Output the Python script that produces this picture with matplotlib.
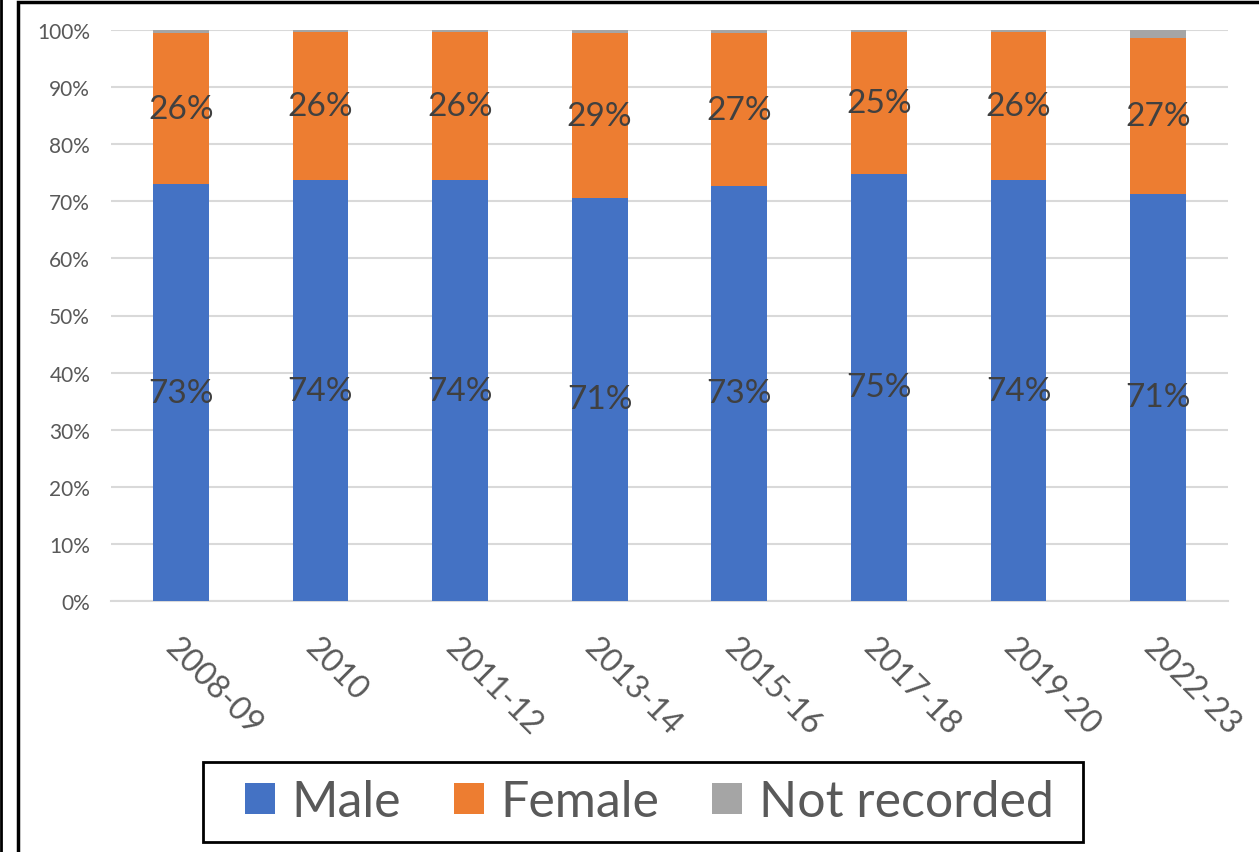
import matplotlib.pyplot as plt
from matplotlib.patches import Rectangle
from matplotlib.lines import Line2D
import numpy as np

plt.rcParams['font.family'] = ['Lato', 'DejaVu Sans']

# 数据
years = ['2008-09', '2010', '2011-12', '2013-14', '2015-16', '2017-18', '2019-20', '2022-23']
male = [73.0, 73.7, 73.7, 70.6, 72.7, 74.8, 73.7, 71.3]
female = [26.4, 25.9, 25.9, 28.8, 26.7, 24.9, 25.9, 27.3]
not_recorded = [0.6, 0.4, 0.4, 0.6, 0.6, 0.3, 0.4, 1.4]
male_labels = ['73%', '74%', '74%', '71%', '73%', '75%', '74%', '71%']
female_labels = ['26%', '26%', '26%', '29%', '27%', '25%', '26%', '27%']

fig = plt.figure(figsize=(12.59, 8.53), dpi=100)
ax = fig.add_axes([111 / 1259, 1 - 602 / 853, (1228 - 111) / 1259, (602 - 31) / 853])

x = np.arange(len(years))
male = np.array(male)
female = np.array(female)
not_recorded = np.array(not_recorded)

b1 = ax.bar(x, male, width=0.4, color='#4472C4', label='Male', zorder=3)
b2 = ax.bar(x, female, width=0.4, bottom=male, color='#ED7D31', label='Female', zorder=3)
b3 = ax.bar(x, not_recorded, width=0.4, bottom=male + female, color='#A5A5A5',
            label='Not recorded', zorder=3)

# 数据标签
for i in range(len(years)):
    ax.text(x[i], male[i] / 2, male_labels[i], ha='center', va='center',
            fontsize=24, color='#404040', zorder=4)
    ax.text(x[i], male[i] + female[i] / 2, female_labels[i], ha='center', va='center',
            fontsize=24, color='#404040', zorder=4)

ax.set_xlim(-0.5, len(years) - 0.5)
ax.set_ylim(0, 100)
ax.set_yticks(np.arange(0, 101, 10))
ax.set_yticklabels([f'{v}%' for v in range(0, 101, 10)], fontsize=15, color='#595959')
ax.set_xticks(x)
ax.set_xticklabels(years, rotation=-45, ha='left', rotation_mode='anchor',
                   fontsize=23, color='#595959')
ax.tick_params(axis='both', length=0)
ax.tick_params(axis='y', pad=15)
ax.tick_params(axis='x', pad=22)

ax.grid(axis='y', color='#D9D9D9', linewidth=1.5, zorder=0)
for s in ['top', 'right', 'left']:
    ax.spines[s].set_visible(False)
ax.spines['bottom'].set_color('#D9D9D9')
ax.spines['bottom'].set_linewidth(1.5)

# 图例（边框单独画）
leg = fig.legend(handles=[b1, b2, b3], loc='center',
                 bbox_to_anchor=((203 + 1083) / 2 / 1259 + 0.005, 1 - 803 / 853),
                 ncol=3, fontsize=36, frameon=False,
                 handlelength=0.6, handleheight=0.6, handletextpad=0.34,
                 columnspacing=1.05, borderpad=0.3, borderaxespad=0)
for t in leg.get_texts():
    t.set_color('#595959')
fig.patches.append(Rectangle((203 / 1259, 1 - 843 / 853), 880 / 1259, 80 / 853,
                             transform=fig.transFigure, fill=False,
                             edgecolor='black', linewidth=2))

# 外框
fig.patches.append(Rectangle((18 / 1259, -0.1), 1.2, 1 - 3 / 853 + 0.1,
                             transform=fig.transFigure, fill=False,
                             edgecolor='black', linewidth=2.5))
fig.lines.append(Line2D([1 / 1259, 1 / 1259], [0, 1], transform=fig.transFigure,
                        color='black', linewidth=2))

fig.savefig('out.png', dpi=100)
